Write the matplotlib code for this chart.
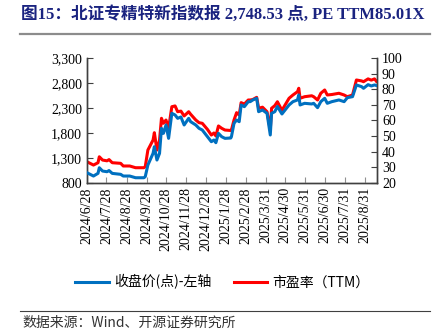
#!/usr/bin/env python3
"""
plot.py
-------
BSE specialised/new index: close (left axis) vs PE TTM (right axis).
Saves out.png.
"""

import matplotlib
matplotlib.use("Agg")
import matplotlib.dates as mdates
import matplotlib.pyplot as plt
import pandas as pd

# ── Data ────────────────────────────────────────────────────────────────────
DATES = [
    "2024-06-28", "2024-07-08", "2024-07-15", "2024-07-17", "2024-07-22",
    "2024-07-29", "2024-08-01", "2024-08-06", "2024-08-19", "2024-08-23",
    "2024-09-02", "2024-09-11", "2024-09-24", "2024-09-26", "2024-09-30",
    "2024-10-08", "2024-10-10", "2024-10-14", "2024-10-18", "2024-10-21",
    "2024-10-24", "2024-10-28", "2024-11-01", "2024-11-06", "2024-11-11",
    "2024-11-15", "2024-11-20", "2024-11-25", "2024-12-02", "2024-12-05",
    "2024-12-13", "2024-12-18", "2024-12-23", "2024-12-31", "2025-01-06",
    "2025-01-10", "2025-01-13", "2025-01-17", "2025-01-22", "2025-01-27",
    "2025-02-05", "2025-02-06", "2025-02-10", "2025-02-14", "2025-02-18",
    "2025-02-21", "2025-02-26", "2025-03-04", "2025-03-07", "2025-03-11",
    "2025-03-17", "2025-03-20", "2025-03-26", "2025-04-02", "2025-04-07",
    "2025-04-09", "2025-04-14", "2025-04-18", "2025-04-25", "2025-05-06",
    "2025-05-12", "2025-05-19", "2025-05-21", "2025-05-23", "2025-05-30",
    "2025-06-10", "2025-06-13", "2025-06-19", "2025-06-24", "2025-06-30",
    "2025-07-04", "2025-07-11", "2025-07-22", "2025-07-30", "2025-08-04",
    "2025-08-12", "2025-08-18", "2025-08-26", "2025-08-29", "2025-09-05",
    "2025-09-10", "2025-09-15", "2025-09-18",
]

CLOSE = [
    1006, 940, 994, 1106, 1040, 1026, 1050, 993, 974, 940,
    940, 906, 906, 930, 1160, 1393, 1526, 1260, 1393, 1893,
    1793, 1960, 1693, 2193, 2160, 2093, 2120, 1960, 2093, 2026,
    1960, 1893, 1860, 1726, 1626, 1660, 1606, 1793, 1726, 1693,
    1700, 1726, 1993, 2060, 2026, 2360, 2326, 2426, 2426, 2460,
    2493, 2226, 2260, 2193, 1760, 2193, 2226, 2330, 2180, 2360,
    2426, 2460, 2560, 2360, 2393, 2380, 2393, 2306, 2426, 2493,
    2393, 2426, 2460, 2426, 2506, 2526, 2760, 2726, 2693, 2766,
    2740, 2760, 2748.53,
]

PE_TTM = [
    33.6, 31.5, 33.0, 36.8, 34.7, 34.2, 35.0, 33.0, 32.6, 30.9,
    30.9, 29.8, 29.8, 30.6, 41.1, 47.5, 52.2, 41.1, 47.5, 61.4,
    58.2, 60.3, 55.0, 68.8, 69.3, 65.6, 66.0, 62.9, 65.6, 64.0,
    60.3, 58.6, 58.2, 54.3, 50.7, 52.0, 50.1, 56.5, 55.0, 53.9,
    53.6, 53.9, 60.3, 65.0, 63.5, 71.4, 70.5, 73.1, 73.1, 73.4,
    74.8, 67.8, 68.5, 65.6, 53.9, 67.8, 69.5, 72.0, 66.5, 74.2,
    76.3, 78.4, 80.6, 74.2, 75.2, 75.8, 75.2, 73.1, 77.4, 79.5,
    76.3, 76.6, 77.4, 76.3, 75.2, 76.3, 85.9, 85.3, 84.8, 86.6,
    85.8, 86.6, 85.01,
]

TICK_DATES = [
    "2024-06-28", "2024-07-28", "2024-08-28", "2024-09-28", "2024-10-28",
    "2024-11-28", "2024-12-28", "2025-01-28", "2025-02-28", "2025-03-31",
    "2025-04-30", "2025-05-31", "2025-06-30", "2025-07-31", "2025-08-31",
]

TITLE = "图15：北证专精特新指数报 2,748.53 点, PE TTM85.01X"
SOURCE = "数据来源：Wind、开源证券研究所"
LABEL_CLOSE = "收盘价(点)-左轴"
LABEL_PE = "市盈率（TTM）"

BLUE = "#0070C0"
RED = "#FF0000"
NAVY = "#1A2380"

SERIF = ["Liberation Serif", "Noto Sans CJK SC"]
CJK = ["Noto Sans CJK SC", "DejaVu Sans"]


def main():
    plt.rcParams["font.family"] = SERIF
    dates = pd.to_datetime(DATES)
    ticks = pd.to_datetime(TICK_DATES)

    fig = plt.figure(figsize=(4.45, 3.31), dpi=100)
    ax = fig.add_axes([0.1955, 0.447, 0.652, 0.378])
    ax2 = ax.twinx()

    # PE first so the close line sits on top where they meet
    ax2.plot(dates, PE_TTM, color=RED, lw=2.2, label=LABEL_PE, zorder=2)
    ax.plot(dates, CLOSE, color=BLUE, lw=2.2, label=LABEL_CLOSE, zorder=3)
    ax.set_zorder(ax2.get_zorder() + 1)
    ax.patch.set_visible(False)

    ax.set_ylim(800, 3300)
    ax.set_yticks(range(800, 3301, 500))
    ax.set_yticklabels([f"{v:,}" for v in range(800, 3301, 500)])
    ax2.set_ylim(20, 100)
    ax2.set_yticks(range(20, 101, 10))

    ax.set_xlim(pd.Timestamp("2024-06-28"), pd.Timestamp("2025-09-19"))
    ax.set_xticks(ticks)
    ax.set_xticklabels([f"{d.year}/{d.month}/{d.day}" for d in ticks],
                       rotation=90)

    for a in (ax, ax2):
        a.spines["top"].set_visible(False)
        for side in ("left", "right", "bottom"):
            a.spines[side].set_color("#404040")
            a.spines[side].set_linewidth(1.0)
        a.tick_params(direction="in", length=4, labelsize=10,
                      colors="#404040", labelcolor="black")
    ax.tick_params(axis="x", colors="#909090", labelcolor="black", pad=3)

    # header
    fig.text(0.047, 1 - 15 / 331, TITLE, fontsize=12, fontweight="bold",
             color=NAVY, va="center", ha="left")
    fig.add_artist(plt.Line2D([0.045, 0.967], [1 - 34 / 331] * 2,
                              color="#8C8C8C", lw=1.6))

    # legend under the dates
    h1, l1 = ax.get_legend_handles_labels()
    h2, l2 = ax2.get_legend_handles_labels()
    fig.legend(h1 + h2, l1 + l2, loc="center", ncol=2,
               bbox_to_anchor=(0.5, 1 - 282 / 331), frameon=False,
               prop={"family": CJK, "size": 10}, handlelength=2.4,
               columnspacing=1.6, handletextpad=0.4)

    # footer
    fig.add_artist(plt.Line2D([0.045, 0.967], [1 - 311 / 331] * 2,
                              color="#404040", lw=0.8))
    fig.text(0.05, 1 - 323 / 331, SOURCE, fontsize=10, color="#333333",
             va="center", ha="left", family=CJK)

    fig.savefig("out.png", dpi=100)
    plt.close(fig)


if __name__ == "__main__":
    main()
